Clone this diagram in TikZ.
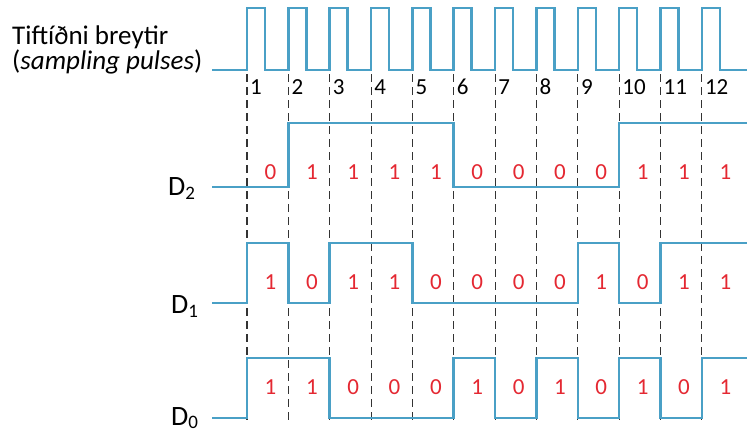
\documentclass[tikz,border=0pt]{standalone}
\usepackage{fontspec}
\setmainfont{Carlito}
\definecolor{wblue}{RGB}{74,160,198}
\definecolor{bitred}{RGB}{228,40,50}
\begin{document}
\begin{tikzpicture}[x=1pt,y=-1pt,
  wave/.style={draw=wblue, line width=2.6pt, line join=miter},
  gridline/.style={draw=black!80, line width=1.1pt, dash pattern=on 8pt off 5pt},
  bit/.style={text=bitred, font=\fontsize{23}{23}\selectfont, inner sep=0pt},
  num/.style={font=\fontsize{23}{23}\selectfont, anchor=base west, inner sep=0pt},
  lbl/.style={font=\fontsize{27}{27}\selectfont, anchor=base west, inner sep=0pt},
  sig/.style={font=\fontsize{28}{28}\selectfont, anchor=base west, inner sep=0pt}]
\useasboundingbox (0,0) rectangle (747,434);

% sampling instants: dashed lines and numbers
\foreach \k in {1,...,12}{
  \pgfmathsetmacro{\ex}{247+(\k-1)*41.35}
  \coordinate (t\k) at (\ex,0);
  \draw[gridline] (\ex,74) -- (\ex,422);
  \node[num] (n\k) at (\ex+3,94) {\k};
}

% text labels
\node[lbl] (title) at (12,44) {Tiftíðni breytir};
\node[lbl] (sub) at (12,69) {(\textit{sampling pulses})};
\node[sig] (d2) at (168,195) {D\raisebox{-4pt}{\fontsize{19}{19}\selectfont 2}};
\node[sig] (d1) at (171,313) {D\raisebox{-4pt}{\fontsize{19}{19}\selectfont 1}};
\node[sig] (d0) at (171,425) {D\raisebox{-3pt}{\fontsize{19}{19}\selectfont 0}};

% clock
\draw[wave] (212,70) \foreach \k in {0,...,11}{ -- ({247+\k*41.35},70) -- ++(0,-62) -- ++(18,0) -- ++(0,62)} -- (747,70);

% D2
\draw[wave] (212,187) -- (288.35,187) -- (288.35,123) -- (453.75,123) -- (453.75,187)
  -- (619.15,187) -- (619.15,123) -- (747,123);
% D1
\draw[wave] (212,303) -- (247,303) -- (247,243) -- (288.35,243) -- (288.35,303)
  -- (329.7,303) -- (329.7,243) -- (412.4,243) -- (412.4,303) -- (577.8,303)
  -- (577.8,243) -- (619.15,243) -- (619.15,303) -- (660.5,303) -- (660.5,243) -- (747,243);
% D0
\draw[wave] (212,418) -- (247,418) -- (247,358) -- (329.7,358) -- (329.7,418)
  -- (453.75,418) -- (453.75,358) -- (495.1,358) -- (495.1,418) -- (536.45,418)
  -- (536.45,358) -- (577.8,358) -- (577.8,418) -- (619.15,418) -- (619.15,358)
  -- (660.5,358) -- (660.5,418) -- (701.85,418) -- (701.85,358) -- (747,358);

% bit values
\foreach \b [count=\k] in {0,1,1,1,1,0,0,0,0,1,1,1}
  \node[bit] (a\k) at ({247+(\k-1)*41.35+23.5},172) {\b};
\foreach \b [count=\k] in {1,0,1,1,0,0,0,0,1,0,1,1}
  \node[bit] (b\k) at ({247+(\k-1)*41.35+23.5},282) {\b};
\foreach \b [count=\k] in {1,1,0,0,0,1,0,1,0,1,0,1}
  \node[bit] (c\k) at ({247+(\k-1)*41.35+23.5},387) {\b};
\end{tikzpicture}
\end{document}
